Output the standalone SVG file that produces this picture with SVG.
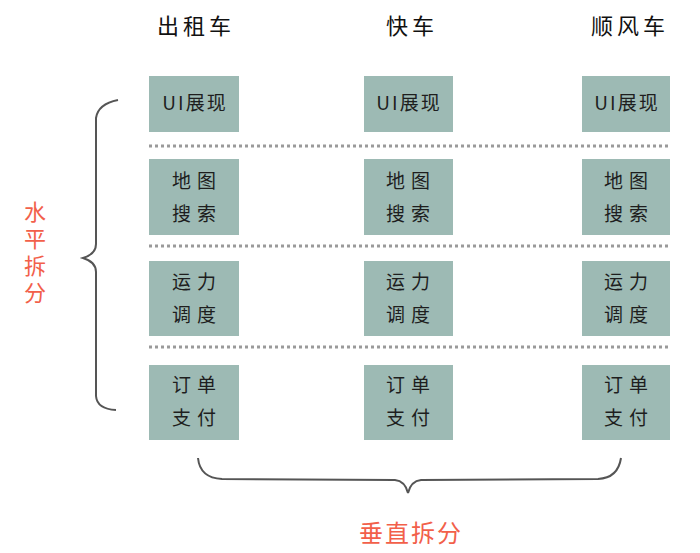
<svg xmlns="http://www.w3.org/2000/svg" width="700" height="553" viewBox="0 0 700 553">
<style>
.box{fill:#9dbab4}
.t{font-family:"Noto Sans CJK SC","Noto Sans",sans-serif;font-size:19px;fill:#1e1e1e;text-anchor:middle;letter-spacing:6px}
.u{font-family:"Noto Sans CJK SC","Noto Sans",sans-serif;font-size:19px;fill:#1e1e1e;text-anchor:middle;letter-spacing:2px}
.h{font-family:"Noto Sans CJK SC","Noto Sans",sans-serif;font-size:22px;fill:#111;text-anchor:middle;letter-spacing:4px}
.r{font-family:"Noto Sans CJK SC","Noto Sans",sans-serif;font-size:22px;fill:#f2604a}
.dot{stroke:#9a9a9a;stroke-width:3;stroke-dasharray:3 3;fill:none}
.br{stroke:#555;stroke-width:2;fill:none}
</style>
<rect width="700" height="553" fill="#fff"/>
<g id="headers">
<text class="h" x="196" y="34">出租车</text>
<text class="h" x="412" y="34">快车</text>
<text class="h" x="630" y="34">顺风车</text>
</g>
<g id="connectors">
<line class="dot" x1="149" y1="146" x2="670" y2="146"/>
<line class="dot" x1="149" y1="246" x2="670" y2="246"/>
<line class="dot" x1="149" y1="347" x2="670" y2="347"/>
<path class="br" d="M118,100 Q98,104 96,118 L96,244 Q96,254 83,258 Q96,262 96,272 L96,396 Q97,409 116,410"/>
<path class="br" d="M198,458 Q200,478 222,479 L395,480 Q405,481 408,493 Q411,481 421,480 L598,479 Q618,478 621,458"/>
</g>
<g id="col1-ui"><rect class="box" x="149" y="76" width="90" height="56"/><text class="u" x="195" y="110">UI展现</text></g>
<g id="col1-map"><rect class="box" x="149" y="159" width="90" height="76"/><text class="t" x="197" y="188">地图</text><text class="t" x="197" y="221">搜索</text></g>
<g id="col1-dispatch"><rect class="box" x="149" y="261" width="90" height="75"/><text class="t" x="197" y="289">运力</text><text class="t" x="197" y="322">调度</text></g>
<g id="col1-order"><rect class="box" x="149" y="365" width="90" height="75"/><text class="t" x="197" y="392">订单</text><text class="t" x="197" y="425">支付</text></g>
<g id="col2-ui"><rect class="box" x="364" y="76" width="89" height="56"/><text class="u" x="409" y="110">UI展现</text></g>
<g id="col2-map"><rect class="box" x="364" y="159" width="89" height="76"/><text class="t" x="411" y="188">地图</text><text class="t" x="411" y="221">搜索</text></g>
<g id="col2-dispatch"><rect class="box" x="364" y="261" width="89" height="75"/><text class="t" x="411" y="289">运力</text><text class="t" x="411" y="322">调度</text></g>
<g id="col2-order"><rect class="box" x="364" y="365" width="89" height="75"/><text class="t" x="411" y="392">订单</text><text class="t" x="411" y="425">支付</text></g>
<g id="col3-ui"><rect class="box" x="582" y="76" width="88" height="56"/><text class="u" x="627" y="110">UI展现</text></g>
<g id="col3-map"><rect class="box" x="582" y="159" width="88" height="76"/><text class="t" x="629" y="188">地图</text><text class="t" x="629" y="221">搜索</text></g>
<g id="col3-dispatch"><rect class="box" x="582" y="261" width="88" height="75"/><text class="t" x="629" y="289">运力</text><text class="t" x="629" y="322">调度</text></g>
<g id="col3-order"><rect class="box" x="582" y="365" width="88" height="75"/><text class="t" x="629" y="392">订单</text><text class="t" x="629" y="425">支付</text></g>
<g id="label-horizontal">
<text class="r" x="35" y="201" writing-mode="tb" style="letter-spacing:5px">水平拆分</text>
</g>
<g id="label-vertical">
<text class="r" x="411" y="542" style="font-size:24px;letter-spacing:2px;text-anchor:middle">垂直拆分</text>
</g>
</svg>
